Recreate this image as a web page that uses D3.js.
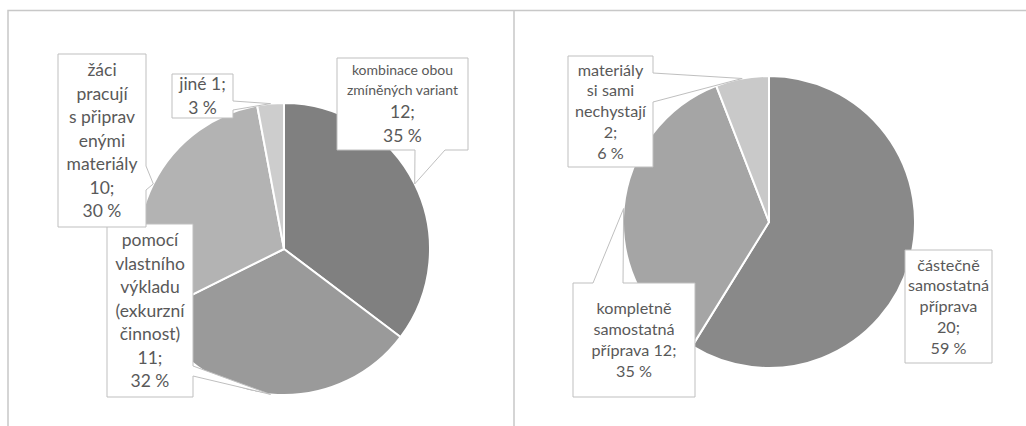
<!DOCTYPE html>
<meta charset="utf-8">
<script src="https://d3js.org/d3.v7.min.js"></script>
<head>
    <title>Pie charts</title>
    <style>
        body { margin: 0; background: #fff; }
        text { font-family: Lato, "Open Sans", sans-serif; fill: #595959; }
    </style>
</head>
<body>
    <div id="my_dataviz"></div>
</body>
<script>
    // data: left chart
    const leftCategories = ["kombinace obou zmíněných variant", "pomocí vlastního výkladu (exkurzní činnost)", "žáci pracují s připravenými materiály", "jiné"];
    const leftValues = [12, 11, 10, 1];
    const leftPercents = ["35 %", "32 %", "30 %", "3 %"];
    const leftLabelLines = [
        ["kombinace obou", "zmíněných variant", "12;", "35 %"],
        ["pomocí", "vlastního", "výkladu", "(exkurzní", "činnost)", "11;", "32 %"],
        ["žáci", "pracují", "s připrav", "enými", "materiály", "10;", "30 %"],
        ["jiné 1;", "3 %"]
    ];
    const leftColors = ["#808080", "#9a9a9a", "#b3b3b3", "#cdcdcd"];

    // data: right chart
    const rightCategories = ["částečně samostatná příprava", "kompletně samostatná příprava", "materiály si sami nechystají"];
    const rightValues = [20, 12, 2];
    const rightPercents = ["59 %", "35 %", "6 %"];
    const rightLabelLines = [
        ["částečně", "samostatná", "příprava", "20;", "59 %"],
        ["kompletně", "samostatná", "příprava 12;", "35 %"],
        ["materiály", "si sami", "nechystají", "2;", "6 %"]
    ];
    const rightColors = ["#898989", "#a5a5a5", "#c9c9c9"];

    const W = 1026, H = 426, radius = 146;

    const svg = d3.select("#my_dataviz")
        .append("svg")
        .attr("width", W)
        .attr("height", H);

    // chart frames
    svg.append("path")
        .attr("d", `M8,${H + 5} V10.5 H${W + 5} M514,10.5 V${H + 5}`)
        .attr("fill", "none")
        .attr("stroke", "#c8c8c8")
        .attr("stroke-width", 1.5);

    // callout boxes relative to pie center: x, y, w, h, pointer side, base offsets
    const leftBoxes = [
        {x: 53, y: -191, w: 131, h: 92, side: "bottom", b: [78, 108], small: 2},
        {x: -177, y: -25, w: 86, h: 173, side: "right", b: [142, 152], small: 0},
        {x: -226, y: -195, w: 88, h: 173, side: "right", b: [112, 136], small: 0},
        {x: -112, y: -175, w: 61, h: 44, side: "right", b: [27, 36], small: 0}
    ];
    const rightBoxes = [
        {x: 136, y: 28, w: 87, h: 113, side: null, b: null, small: 0},
        {x: -196, y: 61, w: 122, h: 114, side: "top", b: [20, 50], small: 0},
        {x: -201, y: -166, w: 85, h: 111, side: "right", b: [17, 46], small: 0}
    ];

    const calloutPath = (bx, tip) => {
        const {x, y, w, h, side, b} = bx;
        const [tx, ty] = tip;
        if (side === "right")
            return `M${x},${y}H${x + w}V${y + b[0]}L${tx},${ty}L${x + w},${y + b[1]}V${y + h}H${x}Z`;
        if (side === "bottom")
            return `M${x},${y}H${x + w}V${y + h}H${x + b[1]}L${tx},${ty}L${x + b[0]},${y + h}H${x}Z`;
        if (side === "top")
            return `M${x},${y}H${x + b[0]}L${tx},${ty}L${x + b[1]},${y}H${x + w}V${y + h}H${x}Z`;
        return `M${x},${y}H${x + w}V${y + h}H${x}Z`;
    };

    const drawPie = (cx, cy, values, colors, lines, boxes, fontSize, lineGap) => {
        const g = svg.append("g").attr("transform", `translate(${cx},${cy})`);
        const arcs = d3.pie().sort(null).value(d => d)(values);
        const arc = d3.arc().innerRadius(0).outerRadius(radius);
        const edge = d3.arc().innerRadius(radius).outerRadius(radius);

        g.selectAll("path.slice")
            .data(arcs)
            .join("path")
            .attr("class", "slice")
            .attr("d", arc)
            .attr("fill", (d, i) => colors[i])
            .attr("stroke", "#fff")
            .attr("stroke-width", 2)
            .attr("stroke-linejoin", "round");

        const labels = g.selectAll("g.label")
            .data(arcs)
            .join("g")
            .attr("class", "label");

        labels.append("path")
            .attr("d", (d, i) => calloutPath(boxes[i], edge.centroid(d)))
            .attr("fill", "#fff")
            .attr("stroke", "#bfbfbf")
            .attr("stroke-width", 1);

        labels.each(function (d, i) {
            const bx = boxes[i];
            const ls = lines[i];
            const sizes = ls.map((l, j) => j < bx.small ? 14 : fontSize);
            const gaps = ls.map((l, j) => j < bx.small ? 20 : lineGap);
            const total = d3.sum(gaps);
            let y = bx.y + bx.h / 2 - total / 2;
            ls.forEach((l, j) => {
                d3.select(this).append("text")
                    .attr("x", bx.x + bx.w / 2)
                    .attr("y", y + gaps[j] / 2)
                    .attr("dy", "0.35em")
                    .attr("text-anchor", "middle")
                    .style("font-size", sizes[j] + "px")
                    .text(l);
                y += gaps[j];
            });
        });
    };

    drawPie(284, 249, leftValues, leftColors, leftLabelLines, leftBoxes, 17.5, 23.5);
    drawPie(769, 222, rightValues, rightColors, rightLabelLines, rightBoxes, 16.2, 20.8);
</script>
